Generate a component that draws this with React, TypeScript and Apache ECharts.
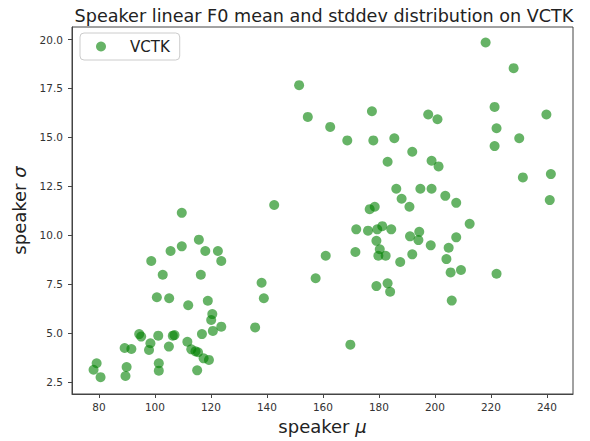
import React, { useEffect, useRef } from "react";
import * as echarts from "echarts";

const seriesName = "VCTK";
const titleText = "Speaker linear F0 mean and stddev distribution on VCTK";
const xTicks = [80, 100, 120, 140, 160, 180, 200, 220, 240];
const yTicks = [2.5, 5, 7.5, 10, 12.5, 15, 17.5, 20];

// speaker mean F0 (mu)
const speakerMu = [
  109.6, 115.7, 109.6, 105.6, 118.0, 122.5, 123.7, 98.7, 102.8, 116.4,
  100.7, 105.1, 118.9, 111.9, 120.5, 120.1, 123.7, 120.7, 116.8, 135.8,
  94.4, 95.1, 101.2, 98.4, 97.9, 106.4, 107.0, 105.0, 111.6, 113.0,
  114.5, 115.4, 117.4, 119.3, 115.1, 89.2, 91.6, 89.9, 89.5, 101.4,
  101.4, 79.2, 78.1, 80.6, 138.1, 138.9, 142.6,
  151.5, 218.1, 228.1, 154.6, 162.6, 168.7, 177.5, 178.0, 185.5, 197.6,
  200.9, 221.3, 222.0, 221.3, 230.1, 239.8, 191.9, 183.1, 198.8, 201.3,
  231.4, 241.4, 241.0, 186.2, 194.8, 198.8, 188.1, 203.7, 207.6, 190.9,
  212.4, 176.7, 178.5,
  171.9, 176.1, 179.4, 181.2, 184.4, 191.1, 194.4, 194.1, 198.5, 207.6,
  204.9, 204.1, 205.6, 209.3, 222.0, 179.1, 180.3, 179.8, 182.4, 171.6,
  161.0, 187.6, 191.9, 157.4, 179.1, 183.1, 184.0, 206.0, 169.8,
];

// speaker F0 standard deviation (sigma)
const speakerSigma = [
  11.15, 9.78, 9.44, 9.2, 9.2, 9.2, 8.69, 8.69, 7.99, 7.99,
  6.84, 6.79, 6.66, 6.43, 5.98, 5.68, 5.34, 5.12, 4.96, 5.3,
  4.96, 4.83, 4.88, 4.49, 4.15, 4.88, 4.91, 4.32, 4.57, 4.18,
  4.08, 4.03, 3.72, 3.64, 3.11, 4.25, 4.2, 3.28, 2.82, 3.47,
  3.09, 3.47, 3.14, 2.76, 7.58, 6.79, 11.55,
  17.67, 19.85, 18.54, 16.05, 15.54, 14.85, 16.34, 14.85, 14.96, 16.17,
  15.93, 16.56, 15.47, 14.56, 14.96, 16.17, 14.27, 13.76, 13.81, 13.52,
  12.96, 13.13, 11.8, 12.38, 12.38, 12.38, 11.87, 12.02, 11.66, 11.46,
  10.59, 11.34, 11.46,
  10.31, 10.24, 10.31, 10.47, 10.31, 9.95, 10.18, 9.76, 9.49, 9.9,
  9.37, 8.79, 8.11, 8.23, 8.04, 9.72, 9.29, 8.96, 8.96, 9.15,
  8.96, 8.64, 9.03, 7.81, 7.41, 7.55, 7.12, 6.67, 4.42,
];

export default function App() {
  const ref = useRef<HTMLDivElement>(null);
  useEffect(() => {
    if (!ref.current) return;
    const chart = echarts.init(ref.current, undefined, { renderer: "svg" });
    const data = speakerMu.map((m, i) => [m, speakerSigma[i]]);
    const font = "DejaVu Sans";
    const tickColor = "#333";
    const nameStyle = {
      fontFamily: font,
      fontSize: 18,
      color: "#222",
      rich: { i: { fontFamily: font, fontSize: 18, fontStyle: "italic", color: "#222" } },
    };
    chart.setOption({
      animation: false,
      backgroundColor: "#fff",
      textStyle: { fontFamily: font },
      title: {
        text: titleText,
        left: 319,
        textAlign: "center",
        top: 2,
        textStyle: { fontFamily: font, fontSize: 17.6, fontWeight: "normal", color: "#222" },
      },
      legend: {
        left: 80,
        top: 33,
        data: [seriesName],
        icon: "circle",
        itemWidth: 10,
        itemHeight: 10,
        padding: [6, 10, 6, 16],
        borderColor: "#ccc",
        borderWidth: 1,
        borderRadius: 4,
        backgroundColor: "rgba(255,255,255,0.8)",
        textStyle: { fontFamily: font, fontSize: 15, color: "#222", padding: [0, 0, 0, 19] },
      },
      grid: {
        left: 72,
        right: 17,
        top: 27,
        bottom: 47,
        show: true,
        borderColor: "#444",
        borderWidth: 1,
        backgroundColor: "#fff",
      },
      xAxis: {
        type: "value",
        min: 70.4,
        max: 249.3,
        name: "speaker {i|μ}",
        nameLocation: "middle",
        nameGap: 23,
        nameTextStyle: nameStyle,
        splitLine: { show: false },
        axisLine: { show: true, onZero: false, lineStyle: { color: "#444" } },
        axisTick: { show: true, length: 4, customValues: xTicks, lineStyle: { color: "#444" } },
        axisLabel: {
          customValues: xTicks,
          margin: 7,
          fontFamily: font,
          fontSize: 10.5,
          color: tickColor,
          showMinLabel: true,
          showMaxLabel: true,
        },
      },
      yAxis: {
        type: "value",
        min: 1.9,
        max: 20.64,
        name: "speaker {i|σ}",
        nameLocation: "middle",
        nameGap: 42,
        nameTextStyle: nameStyle,
        splitLine: { show: false },
        axisLine: { show: true, onZero: false, lineStyle: { color: "#444" } },
        axisTick: { show: true, length: 4, customValues: yTicks, lineStyle: { color: "#444" } },
        axisLabel: {
          customValues: yTicks,
          margin: 9,
          fontFamily: font,
          fontSize: 10.5,
          color: tickColor,
          formatter: (v: number) => v.toFixed(1),
        },
      },
      series: [
        {
          name: seriesName,
          type: "scatter",
          data,
          symbol: "circle",
          symbolSize: 10,
          itemStyle: { color: "green", opacity: 0.6 },
          emphasis: { disabled: true },
        },
      ],
    });
    return () => chart.dispose();
  }, []);
  return (
    <div
      ref={ref}
      style={{ position: "absolute", left: 0, top: 0, width: 590, height: 441 }}
    />
  );
}
